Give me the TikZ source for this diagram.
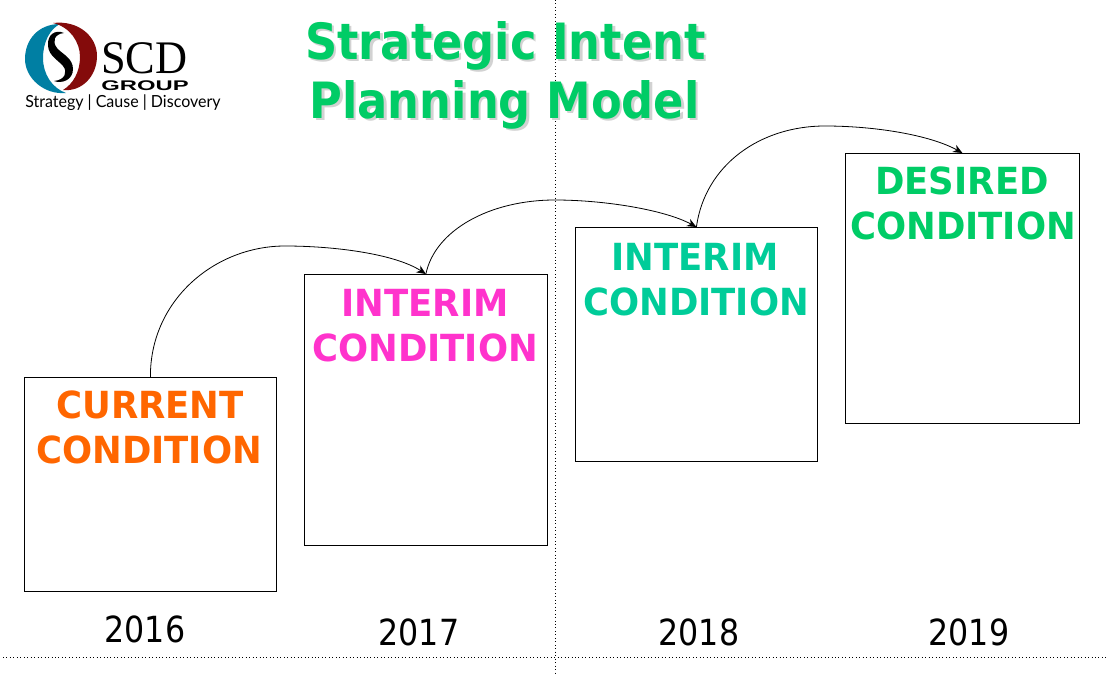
\documentclass[tikz,border=0pt]{standalone}
\usepackage{fontspec}
\setmainfont{DejaVu Sans}
\newfontfamily\logoserif{Liberation Serif}
\newfontfamily\logosans{Liberation Sans}
\newfontfamily\logotag{Lato}
\definecolor{titlegreen}{HTML}{00CC66}
\definecolor{titleshadow}{HTML}{D2D2D2}
\definecolor{curorange}{HTML}{FF6600}
\definecolor{intpink}{HTML}{FF33CC}
\definecolor{intteal}{HTML}{00CC99}
\definecolor{logoblue}{HTML}{007FA3}
\definecolor{logored}{HTML}{840B0B}
\usetikzlibrary{arrows.meta}
\tikzset{
  condbox/.style={draw=black,line width=0.6pt,fill=white,inner sep=0,anchor=north west},
  condlabel/.style={font=\fontsize{28}{34}\selectfont\bfseries,align=center,anchor=base,inner sep=0,xscale=0.95},
  yearlabel/.style={font=\fontsize{27}{32}\selectfont,black,anchor=base,inner sep=0,xscale=0.88},
  titletext/.style={font=\fontsize{37.5}{46}\selectfont\bfseries,anchor=base,inner sep=0,xscale=0.895},
  guide/.style={black,line width=0.6pt,dotted},
  curve/.style={black,line width=0.6pt,-{Stealth[length=7pt,width=6pt]}},
}
\begin{document}
\begin{tikzpicture}[x=0.75pt,y=-0.75pt]
\useasboundingbox (0,0) rectangle (1107,674);
\fill[white] (0,0) rectangle (1107,674);

% guides
\coordinate (vtop) at (555,0);
\coordinate (vbot) at (555,674);
\coordinate (hl) at (3,657);
\coordinate (hr) at (1107,657);
\draw[guide] (vtop) -- (vbot);
\draw[guide] (hl) -- (hr);

% logo
\fill[logoblue] (60,24) .. controls (38,24) and (25,40) .. (25,59)
  .. controls (25,78) and (44,95) .. (66,93)
  .. controls (52,88) and (43,74) .. (43,58)
  .. controls (43,42) and (50,29) .. (60,24) -- cycle;
\fill[logored] (53,23) .. controls (78,20) and (97,36) .. (97,56)
  .. controls (97,76) and (82,92) .. (63,90)
  .. controls (73,84) and (80,72) .. (80,57)
  .. controls (80,42) and (70,27) .. (53,23) -- cycle;
\fill[black] (64,33) .. controls (55,29) and (47,35) .. (48,46)
  .. controls (49,56) and (58,60) .. (63,66)
  .. controls (68,72) and (65,80) .. (54,81)
  .. controls (62,84) and (73,80) .. (73,69)
  .. controls (73,58) and (62,54) .. (57,48)
  .. controls (52,42) and (54,34) .. (64,33) -- cycle;
\node[font=\logoserif\fontsize{35}{35}\selectfont,anchor=base west,inner sep=0,xscale=0.95] (scd) at (101,74) {SCD};
\node[font=\logosans\bfseries\fontsize{10.5}{11}\selectfont,anchor=base west,inner sep=0,xscale=1.7] (grp) at (101,90) {GROUP};
\node[font=\logotag\fontsize{12.5}{13}\selectfont,anchor=base west,inner sep=0,xscale=0.96] (tag) at (25,108) {Strategy | Cause | Discovery};

% title
\node[titletext,titleshadow] (t1s) at (508,62) {Strategic Intent};
\node[titletext,titleshadow] (t2s) at (507,120) {Planning Model};
\node[titletext,titlegreen] (t1) at (505.5,60) {Strategic Intent};
\node[titletext,titlegreen] (t2) at (504.5,118) {Planning Model};

% boxes
\node[condbox,minimum width=189pt,minimum height=160.5pt] (b1) at (24,377) {};
\node[condbox,minimum width=182.25pt,minimum height=203.25pt] (b2) at (304,274) {};
\node[condbox,minimum width=181.5pt,minimum height=175.5pt] (b3) at (575,227) {};
\node[condbox,minimum width=175.5pt,minimum height=202.5pt] (b4) at (845,153) {};

% labels
\node[condlabel,curorange] (l1a) at (150,418) {CURRENT};
\node[condlabel,curorange] (l1b) at (149,463) {CONDITION};
\node[condlabel,intpink] (l2a) at (425,316) {INTERIM};
\node[condlabel,intpink] (l2b) at (425,361) {CONDITION};
\node[condlabel,intteal] (l3a) at (695,270) {INTERIM};
\node[condlabel,intteal] (l3b) at (696,315) {CONDITION};
\node[condlabel,titlegreen] (l4a) at (962,194) {DESIRED};
\node[condlabel,titlegreen] (l4b) at (963,239) {CONDITION};

% years
\node[yearlabel] (y1) at (145,642) {2016};
\node[yearlabel] (y2) at (419,645) {2017};
\node[yearlabel] (y3) at (699,645) {2018};
\node[yearlabel] (y4) at (969,645) {2019};

% connectors
\coordinate (a1) at (285,246);
\coordinate (a2) at (555,200);
\coordinate (a3) at (825,126);
\draw[curve] (b1.north) .. controls (150,300) and (215,246) .. (a1)
  .. controls (335,246) and (395,254) .. (b2.north);
\draw[curve] (b2.north) .. controls (435,230) and (490,200) .. (a2)
  .. controls (605,200) and (665,210) .. (b3.north);
\draw[curve] (b3.north) .. controls (705,165) and (760,126) .. (a3)
  .. controls (875,126) and (930,135) .. (b4.north);
\end{tikzpicture}
\end{document}
